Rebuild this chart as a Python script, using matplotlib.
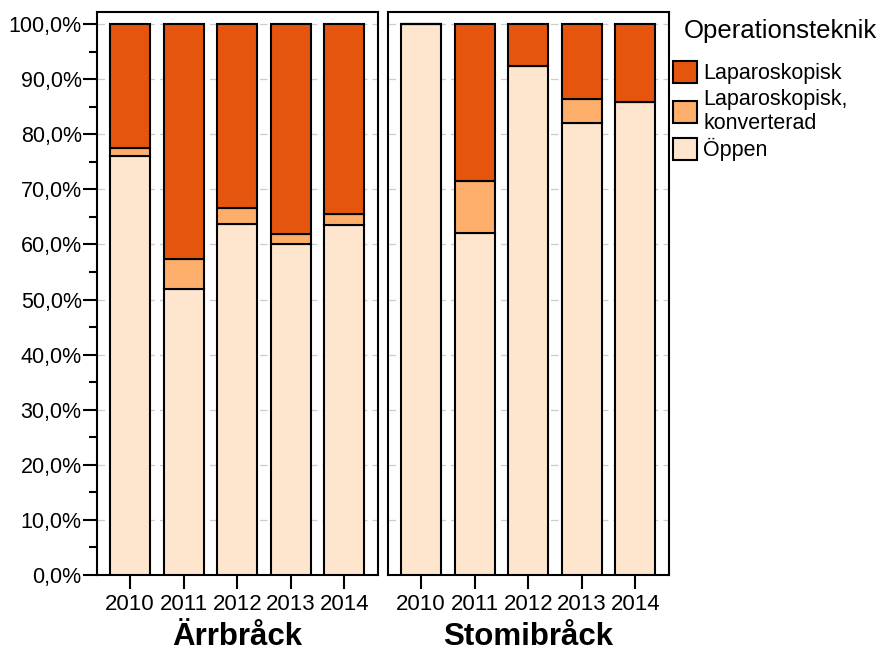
import matplotlib
matplotlib.use("Agg")
import matplotlib.pyplot as plt
from matplotlib.ticker import FuncFormatter, MultipleLocator
from matplotlib.patches import Patch

plt.rcParams['font.family'] = ['Liberation Sans', 'DejaVu Sans']

years = ["2010", "2011", "2012", "2013", "2014"]
groups = ["Ärrbråck", "Stomibråck"]
# percentages per group
oppen = {
    "Ärrbråck": [76.0, 51.9, 63.7, 60.1, 63.5],
    "Stomibråck": [100.0, 62.1, 92.4, 82.0, 85.8],
}
konverterad = {
    "Ärrbråck": [1.5, 5.5, 2.9, 1.8, 2.0],
    "Stomibråck": [0.0, 9.4, 0.0, 4.4, 0.0],
}
series_names = ["Laparoskopisk", "Laparoskopisk,\nkonverterad", "Öppen"]
colors = {"Laparoskopisk": "#E6550D", "Laparoskopisk,\nkonverterad": "#FDAE6B", "Öppen": "#FEE6CE"}

fig = plt.figure(figsize=(8.82, 6.55), dpi=100)
W, H = 882, 655
axes = []
lefts = [97, 388]
for i, g in enumerate(groups):
    ax = fig.add_axes([lefts[i] / W, (H - 575) / H, 281 / W, (575 - 12) / H])
    axes.append(ax)
    x = list(range(len(years)))
    o = oppen[g]
    k = konverterad[g]
    lap = [100 - a - b for a, b in zip(o, k)]
    kw = dict(width=0.75, edgecolor="black", linewidth=1.5, zorder=3)
    ax.bar(x, o, color=colors["Öppen"], **kw)
    ax.bar(x, k, bottom=o, color=colors["Laparoskopisk,\nkonverterad"], **kw)
    ax.bar(x, lap, bottom=[a + b for a, b in zip(o, k)], color=colors["Laparoskopisk"], **kw)
    ax.set_xlim(-0.62, 4.63)
    ax.set_ylim(0, 102.2)
    ax.set_xticks(x)
    ax.set_xticklabels(years, fontsize=16)
    ax.yaxis.set_major_locator(MultipleLocator(10))
    ax.yaxis.set_minor_locator(MultipleLocator(5))
    ax.grid(axis="y", which="major", linestyle=(0, (6, 4)), color="#cccccc", linewidth=0.9, zorder=0)
    ax.tick_params(axis="x", direction="out", length=10, width=1.5, pad=4)
    for s in ax.spines.values():
        s.set_linewidth(1.5)
    ax.set_xlabel(g, fontsize=22.5, fontweight="bold", labelpad=5)
    if i == 0:
        ax.yaxis.set_major_formatter(FuncFormatter(lambda v, p: f"{v:.1f}%".replace(".", ",")))
        ax.tick_params(axis="y", which="major", direction="out", length=10, width=1.5, labelsize=15.5, pad=1)
        ax.tick_params(axis="y", which="minor", direction="out", length=6, width=1.5)
    else:
        ax.tick_params(axis="y", which="both", length=0, labelleft=False)

fig.text(684 / W, 1 - 19 / H, "Operationsteknik", fontsize=18.5, ha="left", va="top")
handles = [Patch(facecolor=colors[n], edgecolor="black", linewidth=1.5, label=n) for n in series_names]
fig.legend(handles=handles, loc="upper left",
           bbox_to_anchor=(673 / W, 1 - 61 / H), frameon=False, fontsize=15.5,
           handlelength=1.1, handleheight=1.2, handletextpad=0.3,
           labelspacing=0.2, borderaxespad=0, borderpad=0)

fig.savefig("out.png", dpi=100)
